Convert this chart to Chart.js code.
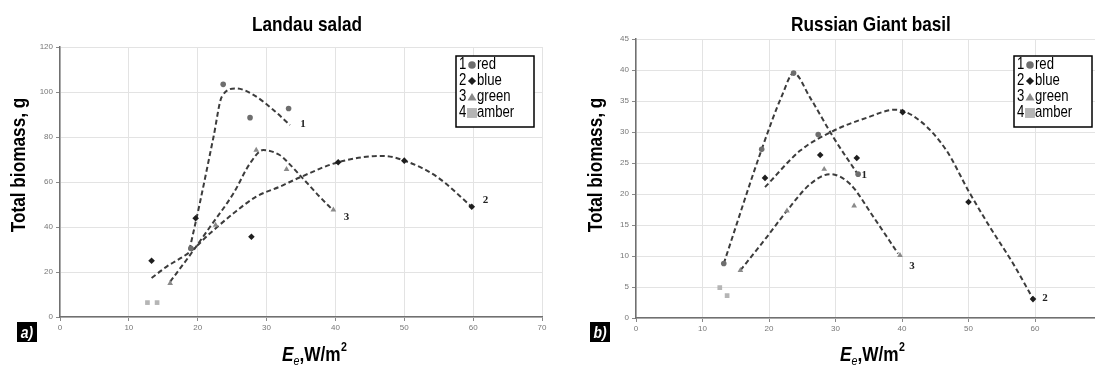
<!DOCTYPE html>
<html>
<head>
<meta charset="utf-8">
<script src="https://cdn.jsdelivr.net/npm/chart.js@4.4.1/dist/chart.umd.min.js"></script>
<style>
  html, body { margin: 0; padding: 0; background: #fff; overflow: hidden; }
  body { width: 1095px; height: 368px; position: relative; }
  .panel { position: absolute; top: 0; width: 560px; height: 368px; }
  #panel-a { left: 0; }
  #panel-b { left: 560px; }
</style>
</head>
<body>
<div class="panel" id="panel-a"><canvas id="chart-a" width="560" height="368"></canvas></div>
<div class="panel" id="panel-b"><canvas id="chart-b" width="560" height="368"></canvas></div>
<script>
// Landau salad: total biomass (g) against irradiance E_e (W/m2)
var saladRed = [[19, 30.5], [23.7, 103.4], [27.6, 88.6], [33.2, 92.7]];
var saladBlue = [[13.3, 25], [19.7, 43.9], [27.8, 35.7], [40.4, 68.8], [50, 69.5], [59.8, 49]];
var saladGreen = [[16, 15], [22.6, 40.9], [28.5, 74.2], [32.9, 65.6], [39.7, 47.6]];
var saladAmber = [[12.7, 6.4], [14.1, 6.4]];

// Landau salad trend curves (1 red, 2 blue, 3 green)
var saladRedFit = [[18.8, 29.8], [20.3, 50.5], [22.3, 80.1], [23.5, 97.9], [25.6, 101.6], [28.1, 98.7], [31, 92], [33.4, 85.3]];
var saladBlueFit = [[13.3, 17.3], [15.5, 22.4], [18.9, 29], [21.8, 37.2], [25.2, 46.1], [28.5, 53.5], [31.9, 57.9], [34.8, 62], [40.4, 68.8], [46.9, 71.6], [50, 69.5], [54.7, 62.4], [59.8, 49]];
var saladGreenFit = [[16, 15.7], [18.9, 27.6], [21.8, 40.1], [25.2, 55], [27.6, 68.3], [29.5, 74.2], [31.9, 72], [33, 69], [35.3, 61.5], [37.7, 53.5], [39.6, 47.6]];

// Russian Giant basil
var basilRed = [[13.2, 8.8], [18.9, 27.2], [23.7, 39.5], [27.4, 29.6], [33.4, 23.2]];
var basilBlue = [[19.4, 22.6], [27.7, 26.3], [33.2, 25.8], [40.1, 33.2], [50, 18.7], [59.7, 3.05]];
var basilGreen = [[15.7, 7.7], [22.7, 17.3], [28.3, 24], [32.8, 18.1], [39.7, 10.1]];
var basilAmber = [[12.6, 4.9], [13.7, 3.6]];

var basilRedFit = [[13.2, 8.8], [18.9, 27.2], [22, 36], [23.7, 39.5], [26.2, 35.5], [29.7, 29.1], [33.4, 23.1]];
var basilBlueFit = [[19.4, 21.1], [24.7, 27], [29.7, 30.2], [34.7, 32.3], [39, 33.6], [42.7, 31.8], [46.7, 27], [50, 20.5], [53.2, 14.7], [56.7, 8.8], [59.7, 3.1]];
var basilGreenFit = [[15.7, 7.7], [19.7, 13.1], [22.7, 17.3], [26.2, 21.6], [29.2, 23.2], [32.2, 21.6], [35.7, 16.3], [39.4, 10.4]];

var xTicksMax = 70;
var legendNames = ["red", "blue", "green", "amber"];

(function () {
  var SANS = '"Liberation Sans", Arial, sans-serif';
  var SQUEEZE = 0.82; // narrow face look

  var markers = [
    { style: "circle", color: "#6e6e6e", r: 2.8 },
    { style: "rectRot", color: "#1e1e1e", r: 3.3 },
    { style: "triangle", color: "#8a8a8a", r: 3.3 },
    { style: "rect", color: "#b5b5b5", r: 3.3 },
  ];

  function pts(arr) {
    return arr.map(function (p) {
      return { x: p[0], y: p[1] };
    });
  }

  function pointSet(arr, m) {
    return {
      data: pts(arr),
      showLine: false,
      pointStyle: m.style,
      pointRadius: m.r,
      pointBackgroundColor: m.color,
      pointBorderColor: m.color,
      pointBorderWidth: 0,
    };
  }

  function fitSet(arr) {
    return {
      data: pts(arr),
      showLine: true,
      pointRadius: 0,
      borderColor: "#3c3c3c",
      borderWidth: 2,
      borderDash: [5, 3],
      cubicInterpolationMode: "monotone",
      fill: false,
    };
  }

  // draws squeezed text, returns its width on screen
  function narrow(ctx, text, x, y, align) {
    var w = ctx.measureText(text).width * SQUEEZE;
    var left = align === "center" ? x - w / 2 : x;
    ctx.save();
    ctx.textAlign = "left";
    ctx.translate(left, y);
    ctx.scale(SQUEEZE, 1);
    ctx.fillText(text, 0, 0);
    ctx.restore();
    return w;
  }

  function drawMarker(ctx, style, x, y, s, color) {
    ctx.fillStyle = color;
    ctx.beginPath();
    if (style === "circle") {
      ctx.arc(x, y, s * 0.42, 0, Math.PI * 2);
    } else if (style === "rectRot") {
      ctx.moveTo(x, y - s * 0.45);
      ctx.lineTo(x + s * 0.45, y);
      ctx.lineTo(x, y + s * 0.45);
      ctx.lineTo(x - s * 0.45, y);
    } else if (style === "triangle") {
      ctx.moveTo(x, y - s * 0.45);
      ctx.lineTo(x + s * 0.5, y + s * 0.4);
      ctx.lineTo(x - s * 0.5, y + s * 0.4);
    } else {
      ctx.rect(x - s * 0.55, y - s * 0.55, s * 1.1, s * 1.1);
    }
    ctx.closePath();
    ctx.fill();
  }

  // titles, axis captions, panel letter, legend box and curve numbers
  var panelDecor = {
    id: "panelDecor",
    afterDraw: function (chart, args, o) {
      var ctx = chart.ctx;
      ctx.save();
      ctx.fillStyle = "#000";
      ctx.textBaseline = "alphabetic";

      ctx.font = "bold 21px " + SANS;
      narrow(ctx, o.title, o.titleX, 31, "center");

      ctx.save();
      ctx.translate(o.yTitleX, 165);
      ctx.rotate(-Math.PI / 2);
      ctx.textBaseline = "middle";
      ctx.font = "bold 21px " + SANS;
      narrow(ctx, "Total biomass, g", 0, 0, "center");
      ctx.restore();

      // E_e, W/m^2
      var x = o.xTitleX;
      var by = 361;
      ctx.font = "italic bold 21px " + SANS;
      x += narrow(ctx, "E", x, by);
      ctx.font = "italic 13px " + SANS;
      x += narrow(ctx, "e", x, by + 4);
      ctx.font = "bold 21px " + SANS;
      x += narrow(ctx, ",W/m", x, by);
      ctx.font = "bold 13px " + SANS;
      narrow(ctx, "2", x + 0.5, by - 10);

      // panel letter
      ctx.fillStyle = "#000";
      ctx.fillRect(o.letterX, 322, 20, 20);
      ctx.fillStyle = "#fff";
      ctx.font = "italic bold 17px " + SANS;
      ctx.textBaseline = "middle";
      narrow(ctx, o.letter, o.letterX + 10, 333, "center");

      // legend box
      var lx = o.legendX;
      ctx.fillStyle = "#fff";
      ctx.fillRect(lx, 56, 78, 71);
      ctx.strokeStyle = "#000";
      ctx.lineWidth = 1.5;
      ctx.strokeRect(lx, 56, 78, 71);
      ctx.font = "16px " + SANS;
      legendNames.forEach(function (name, i) {
        var ry = 65 + i * 16;
        ctx.fillStyle = "#000";
        narrow(ctx, String(i + 1), lx + 3, ry);
        drawMarker(ctx, markers[i].style, lx + 16, ry, 9, markers[i].color);
        ctx.fillStyle = "#000";
        narrow(ctx, name, lx + 21, ry);
      });

      // curve numbers
      var sx = chart.scales.x;
      var sy = chart.scales.y;
      ctx.font = "bold 11px 'Liberation Serif', serif";
      ctx.fillStyle = "#222";
      ctx.textAlign = "left";
      o.curveTags.forEach(function (t) {
        ctx.fillText(t[0], sx.getPixelForValue(t[1]), sy.getPixelForValue(t[2]));
      });
      ctx.restore();
    },
  };

  function makeChart(id, sets, yMax, yStep, pad, yWidth, xHeight, decor) {
    var datasets = [
      pointSet(sets[0], markers[0]),
      pointSet(sets[1], markers[1]),
      pointSet(sets[2], markers[2]),
      pointSet(sets[3], markers[3]),
      fitSet(sets[4]),
      fitSet(sets[5]),
      fitSet(sets[6]),
    ];
    var tickFont = { family: "Liberation Sans, Arial", size: 8 };
    return new Chart(document.getElementById(id), {
      type: "scatter",
      data: { datasets: datasets },
      options: {
        responsive: false,
        animation: false,
        events: [],
        layout: { padding: pad },
        plugins: {
          legend: { display: false },
          tooltip: { enabled: false },
          panelDecor: decor,
        },
        scales: {
          x: {
            type: "linear",
            min: 0,
            max: xTicksMax,
            ticks: { stepSize: 10, color: "#777", font: tickFont, padding: 2, maxRotation: 0 },
            grid: { color: "#e3e3e3", tickLength: 4, tickColor: "#888" },
            border: { color: "#707070", width: 1.5 },
            afterFit: function (s) {
              s.height = xHeight;
            },
          },
          y: {
            min: 0,
            max: yMax,
            ticks: { stepSize: yStep, color: "#777", font: tickFont, padding: 3 },
            grid: { color: "#e3e3e3", tickLength: 4, tickColor: "#888" },
            border: { color: "#707070", width: 1.5 },
            afterFit: function (s) {
              s.width = yWidth;
            },
          },
        },
      },
      plugins: [panelDecor],
    });
  }

  makeChart(
    "chart-a",
    [saladRed, saladBlue, saladGreen, saladAmber, saladRedFit, saladBlueFit, saladGreenFit],
    120, 20,
    { left: 0, top: 47, right: 18, bottom: 0 }, 60, 51,
    {
      title: "Landau salad",
      titleX: 307,
      yTitleX: 19,
      xTitleX: 282,
      letter: "a)",
      letterX: 17,
      legendX: 456,
      curveTags: [["1", 34.9, 85.8], ["2", 61.4, 52], ["3", 41.2, 44.4]],
    }
  );

  makeChart(
    "chart-b",
    [basilRed, basilBlue, basilGreen, basilAmber, basilRedFit, basilBlueFit, basilGreenFit],
    45, 5,
    { left: 0, top: 39, right: 18.5, bottom: 0 }, 76, 50,
    {
      title: "Russian Giant basil",
      titleX: 311,
      yTitleX: 36,
      xTitleX: 280,
      letter: "b)",
      letterX: 30,
      legendX: 454,
      curveTags: [["1", 33.9, 23.1], ["2", 61.1, 3.2], ["3", 41.1, 8.3]],
    }
  );
})();
</script>
</body>
</html>
